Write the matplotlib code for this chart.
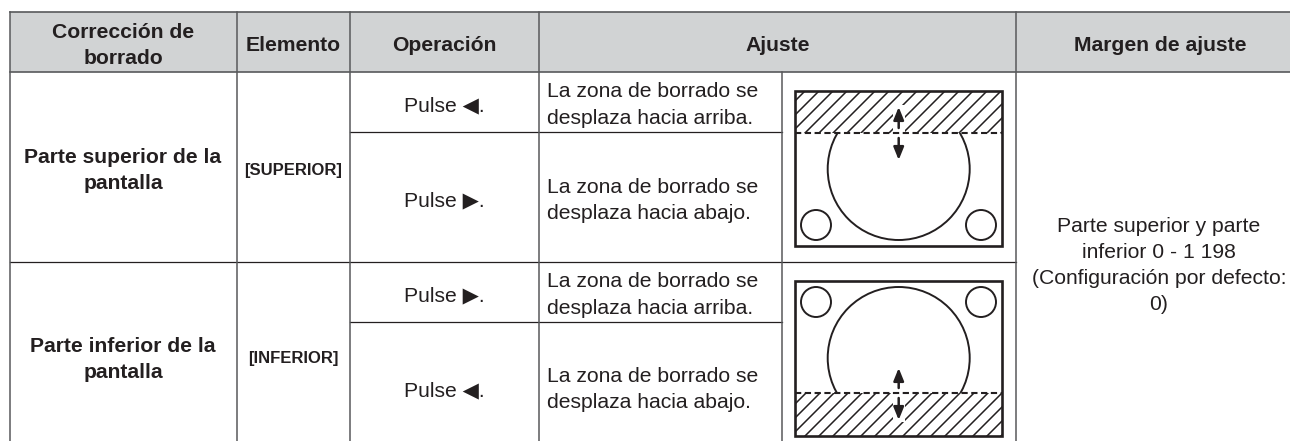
import numpy as np
import matplotlib
matplotlib.use('Agg')
import matplotlib.pyplot as plt
from matplotlib.patches import Rectangle, Circle

# table grid, in pixels of the picture
col_edges = [10, 236.5, 350, 539, 781.5, 1016, 1290]
header_y = [12, 72]
row_y = [72, 132, 261.5, 322, 441]

headers = ['Corrección de\nborrado', 'Elemento', 'Operación', 'Ajuste', 'Margen de ajuste']
parts = ['Parte superior de la\npantalla', 'Parte inferior de la\npantalla']
items = ['[SUPERIOR]', '[INFERIOR]']
ops = ['Pulse \u25c0.', 'Pulse \u25b6.', 'Pulse \u25b6.', 'Pulse \u25c0.']
adjust = ['La zona de borrado se\ndesplaza hacia arriba.', 'La zona de borrado se\ndesplaza hacia abajo.',
          'La zona de borrado se\ndesplaza hacia arriba.', 'La zona de borrado se\ndesplaza hacia abajo.']
margin = 'Parte superior y parte\ninferior 0 - 1 198\n(Configuración por defecto:\n0)'

TXT = '#231f20'
GREY = '#58595b'
FS = 15.2
LS = 1.48
fam = ['Liberation Sans', 'DejaVu Sans']

fig = plt.figure(figsize=(12.9, 4.41), dpi=100)
ax = fig.add_axes([0, 0, 1, 1])
ax.set_xlim(0, 1290)
ax.set_ylim(441, 0)
ax.axis('off')


def put(x, y, s, bold=False, ha='center', size=FS):
    ax.text(x, y, s, ha=ha, va='center', fontsize=size, color=TXT, family=fam,
            fontweight='bold' if bold else 'normal', linespacing=LS, multialignment=ha)


def screen(top, bottom, dash_y, cy, sy, hatch_top, arrow_top, arrow_bot):
    left, right = 795, 1002
    cx = 898.7
    box = Rectangle((left, top), right - left, bottom - top, fc='none', ec=TXT, lw=1.9, zorder=5)
    # big circle, cut off where the blanked zone begins
    big = Circle((cx, cy), 71, fc='none', ec=TXT, lw=1.4)
    ax.add_patch(big)
    if hatch_top:
        big.set_clip_path(Rectangle((left, dash_y), right - left, bottom - dash_y, transform=ax.transData))
        y0, y1 = top, dash_y
    else:
        big.set_clip_path(Rectangle((left, top), right - left, dash_y - top, transform=ax.transData))
        y0, y1 = dash_y, bottom
    for sx in [816, 981]:
        ax.add_patch(Circle((sx, sy), 15, fc='none', ec=TXT, lw=1.4))
    clip = Rectangle((left, y0), right - left, y1 - y0, transform=ax.transData)
    for x in np.arange(left - 60, right + 60, 14):
        ln, = ax.plot([x, x + (y1 - y0)], [y1, y0], color=TXT, lw=1.1)
        ln.set_clip_path(clip)
    ax.add_patch(box)
    # white gap behind the arrow, then the arrow itself
    ax.add_patch(Rectangle((cx - 6, arrow_top - 2), 12, arrow_bot - arrow_top + 4, fc='white', ec='none', zorder=4.5))
    ax.plot([left, right], [dash_y, dash_y], color=TXT, lw=1.5, dashes=(3, 1.7), zorder=4.6)
    style = dict(arrowstyle='-|>,head_width=0.17,head_length=0.42', color=TXT, lw=1.8,
                 shrinkA=0, shrinkB=0, mutation_scale=18)
    ax.annotate('', xy=(cx, arrow_top), xytext=(cx, dash_y - 5), zorder=6, arrowprops=style)
    ax.annotate('', xy=(cx, arrow_bot), xytext=(cx, dash_y + 5), zorder=6, arrowprops=style)


# header band
ax.add_patch(Rectangle((col_edges[0], header_y[0]), col_edges[-1] - col_edges[0], header_y[1] - header_y[0],
                       fc='#d1d3d4', ec='none'))
ax.plot([col_edges[0], 1290], [header_y[0], header_y[0]], color=GREY, lw=1.2)
ax.plot([col_edges[0], 1290], [header_y[1], header_y[1]], color=GREY, lw=1.2)

# horizontal rules
ax.plot([col_edges[2], col_edges[4]], [row_y[1], row_y[1]], color=TXT, lw=0.9)
ax.plot([col_edges[2], col_edges[4]], [row_y[3], row_y[3]], color=TXT, lw=0.9)
ax.plot([col_edges[0], col_edges[5]], [row_y[2], row_y[2]], color=TXT, lw=0.9)

# vertical rules
for x in col_edges[:4] + [col_edges[5]]:
    ax.plot([x, x], [header_y[0], 441], color=GREY, lw=1.1)
ax.plot([col_edges[4], col_edges[4]], [header_y[1], 441], color=GREY, lw=1.1)

# header text
hx = [123, 293, 444.5, 777.5, 1160]
for x, s in zip(hx, headers):
    put(x, 45.5, s, bold=True)

put(123, 170.5, parts[0], True)
put(123, 359.5, parts[1], True)
put(293, 170.5, items[0], True, size=12)
put(293, 358.5, items[1], True, size=12)

op_y = [105.5, 200.5, 295.5, 390.5]
text_y = [105, 200.5, 295, 389.5]
for y, y2, s, a in zip(op_y, text_y, ops, adjust):
    put(444.5, y, s)
    put(547, y2, a, ha='left')

put(1159, 265.5, margin)

screen(91, 246, 133, 169, 225, True, 107, 160)
screen(281, 436, 393, 358, 302, False, 368, 420)

fig.savefig('out.png', dpi=100)
